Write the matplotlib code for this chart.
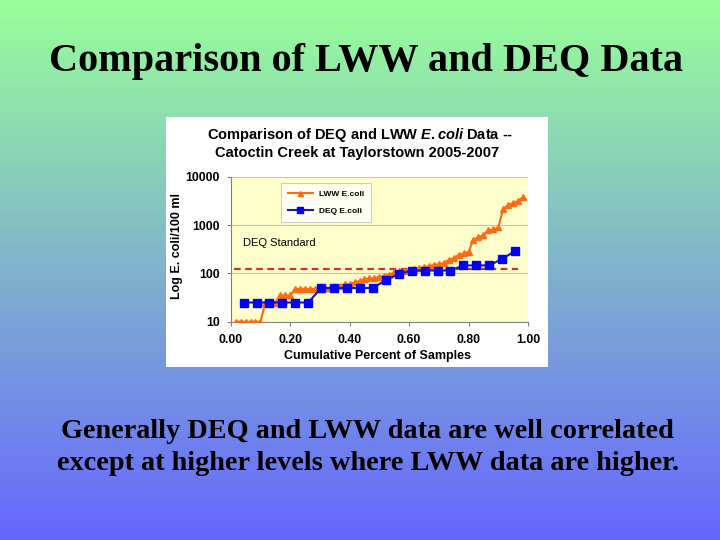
import numpy as np
import matplotlib
matplotlib.use("Agg")
from matplotlib import pyplot as plt
from matplotlib.patches import Rectangle

# cumulative fraction of samples and E. coli counts
deq_x = [i / 23 for i in range(1, 23)]
deq_y = [25, 25, 25, 25, 25, 25, 50, 50, 50, 50, 50, 73, 97, 115, 115, 115, 115,
         147, 147, 147, 200, 292]

lww_x = [i / 60 for i in range(1, 60)]
lww_y = [10, 10, 10, 10, 10, 10, 25, 25, 25, 35, 35, 35, 48, 48, 48, 48, 48, 48,
         50, 50, 50, 55, 60, 60, 65, 70, 75, 80, 80, 85, 90, 95, 105, 110, 115,
         120, 125, 130, 135, 140, 150, 155, 165, 190, 210, 240, 260, 280, 500,
         560, 620, 780, 820, 900, 2200, 2600, 2900, 3200, 3800]

std_x = [0.01, 0.965]
std_y = [126, 126]

yticks = [10, 100, 1000, 10000]
ytick_labels = ["10", "100", "1000", "10000"]
xticks = [0.0, 0.2, 0.4, 0.6, 0.8, 1.0]
xtick_labels = ["0.00", "0.20", "0.40", "0.60", "0.80", "1.00"]

W, H = 720, 540
plt.rcParams["mathtext.fontset"] = "custom"
plt.rcParams["mathtext.it"] = "Liberation Sans:italic:bold"
plt.rcParams["mathtext.rm"] = "Liberation Sans:bold"

fig = plt.figure(figsize=(7.2, 5.4), dpi=100)

# slide background gradient
bg = fig.add_axes([0, 0, 1, 1])
top = np.array([0.60, 1.00, 0.60])
bot = np.array([0.40, 0.40, 1.00])
t = np.linspace(0, 1, 256)[:, None]
grad = top[None, :] * (1 - t) + bot[None, :] * t
bg.imshow(grad[:, None, :], aspect="auto", extent=[0, 1, 0, 1])
bg.set_axis_off()

serif = ["Liberation Serif", "DejaVu Serif"]
sans = ["Liberation Sans", "DejaVu Sans"]

fig.text(366 / W, 1 - 62 / H, "Comparison of LWW and DEQ Data", ha="center",
         va="center", family=serif, weight="bold", fontsize=29)
fig.text(367 / W, 1 - 431 / H, "Generally DEQ and LWW data are well correlated",
         ha="center", va="center", family=serif, weight="bold", fontsize=20.3)
fig.text(368 / W, 1 - 463 / H, "except at higher levels where LWW data are higher.",
         ha="center", va="center", family=serif, weight="bold", fontsize=20.3)

# white chart box
fig.patches.append(Rectangle((166 / W, 1 - 367 / H), (548 - 166) / W, (367 - 117) / H,
                             transform=fig.transFigure, facecolor="white",
                             edgecolor="none", zorder=1))

fig.text(360 / W, 1 - 135 / H, r"Comparison of DEQ and LWW $\mathit{E. coli}$ Data --",
         ha="center", va="center", family=sans, weight="bold", fontsize=10.5, zorder=3)
fig.text(357 / W, 1 - 153 / H, "Catoctin Creek at Taylorstown 2005-2007",
         ha="center", va="center", family=sans, weight="bold", fontsize=10.5, zorder=3)

ax = fig.add_axes([230.7 / W, 1 - 321.7 / H, (528 - 230.7) / W, (321.7 - 177) / H])
ax.set_zorder(2)
ax.set_facecolor("#ffffcc")
ax.set_yscale("log")
ax.set_xlim(0, 1)
ax.set_ylim(10, 10000)

ax.plot(std_x, std_y, color="#cc3333", lw=1.6, ls=(0, (3, 2)), zorder=2)
ax.plot(lww_x, lww_y, color="#ff6a13", lw=1.5, marker="^", ms=4.5,
        mec="#ff6a13", label="LWW E.coli", zorder=3)
ax.plot(deq_x, deq_y, color="#1a1aa0", lw=1.5, marker="s", ms=5.5,
        mfc="#0000ff", mec="#0000ff", label="DEQ E.coli", zorder=4)

ax.text(0.04, 430, "DEQ Standard", family=sans, fontsize=8, va="center")

ax.set_yticks(yticks, ytick_labels)
ax.minorticks_off()
ax.set_xticks(xticks, xtick_labels)
for lab in ax.get_xticklabels() + ax.get_yticklabels():
    lab.set_family(sans)
    lab.set_weight("bold")
    lab.set_fontsize(8.8)
ax.tick_params(axis="both", length=3, color="#808080")
ax.tick_params(axis="y", pad=5)
ax.tick_params(axis="x", pad=6)
ax.grid(axis="y", color="#c8c8a0", lw=0.8)
for s in ["top", "right"]:
    ax.spines[s].set_visible(False)
for s in ["left", "bottom"]:
    ax.spines[s].set_color("#808080")

ax.set_xlabel("Cumulative Percent of Samples", family=sans, weight="bold",
              fontsize=9, va="center")
ax.set_ylabel("Log E. coli/100 ml", family=sans, weight="bold", fontsize=9, va="center")
ax.xaxis.set_label_coords((378 - 230.7) / 297.3, (321.7 - 356) / 144.7)
ax.yaxis.set_label_coords((177 - 230.7) / 297.3, (321.7 - 246) / 144.7)

leg = ax.legend(loc="upper left", bbox_to_anchor=(0.155, 0.985), prop={"family": sans,
                "weight": "bold", "size": 6}, frameon=True, fancybox=False,
                handlelength=3.0, borderpad=0.8, labelspacing=1.1, markerscale=0.8)
leg.get_frame().set_edgecolor("#c0c0c0")
leg.get_frame().set_linewidth(0.8)

fig.savefig("out.png", dpi=100)
